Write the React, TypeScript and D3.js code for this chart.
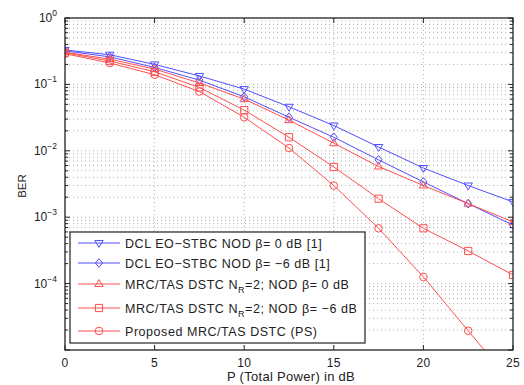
import React, { useEffect, useRef } from "react";
import * as d3 from "d3";

// P (total power) in dB
const power = [0, 2.5, 5, 7.5, 10, 12.5, 15, 17.5, 20, 22.5, 25];

const dclBeta0 = [0.33, 0.28, 0.2, 0.134, 0.085, 0.046, 0.024, 0.0114, 0.0055, 0.003, 0.0017];
const dclBetaM6 = [0.32, 0.26, 0.18, 0.116, 0.065, 0.032, 0.016, 0.0073, 0.0034, 0.0016, 0.00076];
const mrcBeta0 = [0.305, 0.24, 0.17, 0.105, 0.06, 0.029, 0.013, 0.0058, 0.003, 0.0016, 0.00085];
const mrcBetaM6 = [0.3, 0.225, 0.155, 0.09, 0.041, 0.016, 0.0057, 0.0019, 0.00068, 0.00031, 0.000135];
const proposed = [0.29, 0.21, 0.14, 0.078, 0.032, 0.011, 0.003, 0.00068, 0.000126, 0.0000195, 0.000003];

const xTicks = [0, 5, 10, 15, 20, 25];
const yExponents = [0, -1, -2, -3, -4];

const BLUE = "#4f4fff";
const RED = "#ff4f4f";

const seriesList = [
  { values: dclBeta0, color: BLUE, marker: "tri-down", label: ["DCL EO\u2212STBC NOD \u03b2= 0 dB [1]"] },
  { values: dclBetaM6, color: BLUE, marker: "diamond", label: ["DCL EO\u2212STBC NOD \u03b2= \u22126 dB [1]"] },
  { values: mrcBeta0, color: RED, marker: "tri-up", label: ["MRC/TAS DSTC N", "R", "=2; NOD \u03b2= 0 dB"] },
  { values: mrcBetaM6, color: RED, marker: "square", label: ["MRC/TAS DSTC N", "R", "=2; NOD \u03b2= \u22126 dB"] },
  { values: proposed, color: RED, marker: "circle", label: ["Proposed MRC/TAS DSTC (PS)"] },
];

function markerPath(type: string, cx: number, cy: number) {
  const r = 3.6;
  if (type === "square") return `M${cx - r},${cy - r}h${2 * r}v${2 * r}h${-2 * r}Z`;
  if (type === "diamond") return `M${cx},${cy - r - 0.8}L${cx + r},${cy}L${cx},${cy + r + 0.8}L${cx - r},${cy}Z`;
  if (type === "tri-up") return `M${cx},${cy - r - 0.8}L${cx + r + 0.6},${cy + r * 0.7}L${cx - r - 0.6},${cy + r * 0.7}Z`;
  return `M${cx},${cy + r + 0.8}L${cx + r + 0.6},${cy - r * 0.7}L${cx - r - 0.6},${cy - r * 0.7}Z`;
}

function drawMarker(g: any, type: string, cx: number, cy: number, color: string) {
  if (type === "circle") {
    g.append("circle").attr("cx", cx).attr("cy", cy).attr("r", 3.8)
      .attr("fill", "none").attr("stroke", color).attr("stroke-width", 1);
  } else {
    g.append("path").attr("d", markerPath(type, cx, cy))
      .attr("fill", "none").attr("stroke", color).attr("stroke-width", 1);
  }
}

function App() {
  const ref = useRef<SVGSVGElement>(null);

  useEffect(() => {
    const svg = d3.select(ref.current);
    svg.selectAll("*").remove();
    const left = 65, right = 513, top = 18, bottom = 350;
    const font = "'Liberation Sans', Arial, Helvetica, sans-serif";

    const x = d3.scaleLinear().domain([0, 25]).range([left, right]);
    const y = d3.scaleLog().domain([1e-5, 1]).range([bottom, top]);

    svg.append("rect").attr("width", 524).attr("height", 385).attr("fill", "#fff");

    // grid
    const grid = svg.append("g").attr("stroke", "#9a9a9a").attr("stroke-width", 0.8)
      .attr("stroke-dasharray", "1,3");
    for (let e = -5; e < 0; e++) {
      for (let m = 1; m < 10; m++) {
        const v = m * Math.pow(10, e);
        if (e === -5 && m === 1) continue;
        grid.append("line").attr("x1", left).attr("x2", right)
          .attr("y1", y(v)).attr("y2", y(v));
      }
    }
    xTicks.slice(1, -1).forEach((t) => {
      grid.append("line").attr("x1", x(t)).attr("x2", x(t)).attr("y1", top).attr("y2", bottom);
    });

    // ticks
    const ticks = svg.append("g").attr("stroke", "#222").attr("stroke-width", 1);
    for (let e = -5; e <= 0; e++) {
      for (let m = 1; m < 10; m++) {
        const v = m * Math.pow(10, e);
        if (v > 1) break;
        const len = m === 1 ? 5 : 3;
        ticks.append("line").attr("x1", left).attr("x2", left + len).attr("y1", y(v)).attr("y2", y(v));
        ticks.append("line").attr("x1", right).attr("x2", right - len).attr("y1", y(v)).attr("y2", y(v));
      }
    }
    xTicks.forEach((t) => {
      ticks.append("line").attr("x1", x(t)).attr("x2", x(t)).attr("y1", bottom).attr("y2", bottom - 5);
      ticks.append("line").attr("x1", x(t)).attr("x2", x(t)).attr("y1", top).attr("y2", top + 5);
    });

    // series
    svg.append("defs").append("clipPath").attr("id", "plotclip")
      .append("rect").attr("x", left).attr("y", top).attr("width", right - left).attr("height", bottom - top);
    const plot = svg.append("g").attr("clip-path", "url(#plotclip)");
    const line = d3.line<number>().x((d, i) => x(power[i])).y((d) => y(d));
    seriesList.forEach((s) => {
      plot.append("path").attr("d", line(s.values)).attr("fill", "none")
        .attr("stroke", s.color).attr("stroke-width", 1);
      s.values.forEach((v, i) => {
        drawMarker(plot, s.marker, x(power[i]), y(v), s.color);
      });
    });

    // frame
    svg.append("rect").attr("x", left).attr("y", top).attr("width", right - left)
      .attr("height", bottom - top).attr("fill", "none").attr("stroke", "#222").attr("stroke-width", 1.3);

    // tick labels
    xTicks.forEach((t) => {
      svg.append("text").attr("x", x(t)).attr("y", bottom + 17).attr("text-anchor", "middle")
        .attr("font-family", font).attr("font-size", 12).attr("letter-spacing", 0.3)
        .attr("fill", "#222").text(t);
    });
    yExponents.forEach((e) => {
      const tx = svg.append("text").attr("x", 57).attr("y", y(Math.pow(10, e)) + 4)
        .attr("text-anchor", "end").attr("font-family", font).attr("font-size", 12).attr("fill", "#222");
      tx.append("tspan").text("10");
      tx.append("tspan").attr("font-size", 8.5).attr("dy", -6).text(e === 0 ? "0" : "\u2212" + Math.abs(e));
    });

    svg.append("text").attr("transform", `translate(26,${(top + bottom) / 2 + 2}) rotate(-90)`)
      .attr("text-anchor", "middle").attr("font-family", font).attr("font-size", 11.5).attr("fill", "#222")
      .text("BER");
    svg.append("text").attr("x", (left + right) / 2 + 2).attr("y", 381).attr("text-anchor", "middle")
      .attr("font-family", font).attr("font-size", 13).attr("letter-spacing", 0.3).attr("fill", "#222")
      .text("P (Total Power) in dB");

    // legend
    const lg = svg.append("g");
    lg.append("rect").attr("x", 70).attr("y", 232).attr("width", 295).attr("height", 111)
      .attr("fill", "#fff").attr("stroke", "#222").attr("stroke-width", 1.2);
    const rowY = [243, 263, 284, 308, 331];
    seriesList.forEach((s, i) => {
      const ly = rowY[i];
      lg.append("line").attr("x1", 78).attr("x2", 120).attr("y1", ly).attr("y2", ly)
        .attr("stroke", s.color).attr("stroke-width", 1);
      drawMarker(lg, s.marker, 99, ly, s.color);
      const t = lg.append("text").attr("x", 125).attr("y", ly + 4.5).attr("font-family", font)
        .attr("font-size", 12.5).attr("letter-spacing", 0.55).attr("fill", "#222");
      t.append("tspan").text(s.label[0]);
      if (s.label.length > 1) {
        t.append("tspan").attr("font-size", 9).attr("dy", 4).text(s.label[1]);
        t.append("tspan").attr("dy", -4).text(s.label[2]);
      }
    });
  }, []);

  return (
    <svg ref={ref} width={524} height={385}
      style={{ position: "absolute", left: 0, top: 0, display: "block" }} />
  );
}

export default App;
